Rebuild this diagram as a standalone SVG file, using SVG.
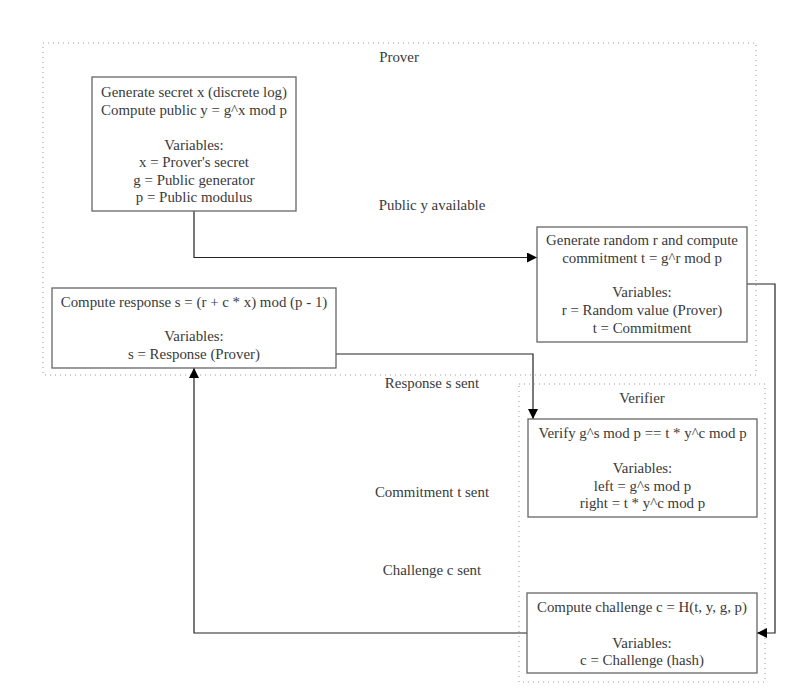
<svg xmlns="http://www.w3.org/2000/svg" width="800" height="700" viewBox="0 0 800 700">
<style>
text{font-family:"Liberation Serif","Times New Roman",serif;font-size:14.9px;fill:#3a3a3a;text-anchor:middle}
.node rect{fill:#fff;stroke:#666;stroke-width:1.3}
.cluster{fill:none;stroke:#999;stroke-width:1;stroke-dasharray:1 4}
.edge{fill:none;stroke:#222;stroke-width:1.2}
</style>
<defs>
<marker id="arr" viewBox="0 0 10 10" refX="10" refY="5" markerWidth="10" markerHeight="10" markerUnits="userSpaceOnUse" orient="auto">
<path d="M0,0 L10,5 L0,10 z" fill="#000"/>
</marker>
</defs>
<rect width="800" height="700" fill="#fff"/>
<g id="prover-cluster">
<rect class="cluster" x="43" y="43" width="713" height="332"/>
<text x="399" y="62">Prover</text>
</g>
<g id="verifier-cluster">
<rect class="cluster" x="519" y="384" width="246" height="298"/>
<text x="642" y="403">Verifier</text>
</g>
<g id="connectors">
<path class="edge" d="M194,211 V257.5 H537" marker-end="url(#arr)"/>
<path class="edge" d="M336,354 H533 V419" marker-end="url(#arr)"/>
<path class="edge" d="M747,284 H775 V633 H757" marker-end="url(#arr)"/>
<path class="edge" d="M527,633 H194 V368" marker-end="url(#arr)"/>
<text x="432" y="210">Public y available</text>
<text x="432" y="388">Response s sent</text>
<text x="432" y="497">Commitment t sent</text>
<text x="432" y="575">Challenge c sent</text>
</g>
<g id="node-generate-secret" class="node">
<rect x="92" y="77" width="204" height="134"/>
<text x="194" y="97">Generate secret x (discrete log)</text>
<text x="194" y="114.5">Compute public y = g^x mod p</text>
<text x="194" y="149.5">Variables:</text>
<text x="194" y="167">x = Prover's secret</text>
<text x="194" y="184.5">g = Public generator</text>
<text x="194" y="202">p = Public modulus</text>
</g>
<g id="node-commitment" class="node">
<rect x="537" y="227" width="210" height="115"/>
<text x="642" y="245">Generate random r and compute</text>
<text x="642" y="263">commitment t = g^r mod p</text>
<text x="642" y="297">Variables:</text>
<text x="642" y="315">r = Random value (Prover)</text>
<text x="642" y="332.5">t = Commitment</text>
</g>
<g id="node-response" class="node">
<rect x="52" y="288" width="284" height="80"/>
<text x="194" y="307">Compute response s = (r + c * x) mod (p - 1)</text>
<text x="194" y="341">Variables:</text>
<text x="194" y="359">s = Response (Prover)</text>
</g>
<g id="node-verify" class="node">
<rect x="528" y="419" width="229" height="98"/>
<text x="642.5" y="438">Verify g^s mod p == t * y^c mod p</text>
<text x="642.5" y="473">Variables:</text>
<text x="642.5" y="491">left = g^s mod p</text>
<text x="642.5" y="508">right = t * y^c mod p</text>
</g>
<g id="node-challenge" class="node">
<rect x="527" y="593" width="230" height="80"/>
<text x="642" y="612">Compute challenge c = H(t, y, g, p)</text>
<text x="642" y="648">Variables:</text>
<text x="642" y="665">c = Challenge (hash)</text>
</g>
</svg>
